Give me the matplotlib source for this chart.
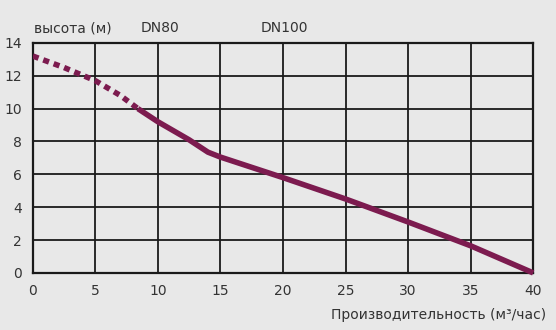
import matplotlib
matplotlib.use("Agg")
import matplotlib.pyplot as plt

# ── Data ──────────────────────────────────────────────────────────────────────

# dotted part (below the pump's working range)
dot_x = [0, 2.5, 5, 7, 8.4]
dot_y = [13.2, 12.5, 11.7, 10.8, 10.0]

# solid working curve
sol_x = [8.4, 10, 12.5, 14, 15, 20, 25, 30, 35, 40]
sol_y = [10.0, 9.2, 8.1, 7.35, 7.05, 5.8, 4.5, 3.1, 1.65, 0.0]

x_ticks = [0, 5, 10, 15, 20, 25, 30, 35, 40]
y_ticks = [0, 2, 4, 6, 8, 10, 12, 14]

BG    = "#e8e8e8"
CURVE = "#7c1b4f"
TEXT  = "#333333"

# ── Plot ──────────────────────────────────────────────────────────────────────

fig = plt.figure(figsize=(5.56, 3.30), dpi=100)
fig.patch.set_facecolor(BG)
ax = fig.add_axes([0.059, 0.173, 0.900, 0.697])
ax.set_facecolor(BG)

ax.set_xlim(0, 40)
ax.set_ylim(0, 14)
ax.set_xticks(x_ticks)
ax.set_yticks(y_ticks)
ax.grid(True, color="#1a1a1a", lw=1.3)
ax.set_axisbelow(True)
for s in ax.spines.values():
    s.set_color("#1a1a1a")
    s.set_linewidth(1.6)
ax.tick_params(length=0, labelsize=10, colors=TEXT, pad=8)

ax.plot(dot_x, dot_y, color=CURVE, lw=4, ls=(0, (1.1, 0.9)),
        solid_capstyle="butt", dash_capstyle="butt", zorder=3)
ax.plot(sol_x, sol_y, color=CURVE, lw=4, solid_capstyle="butt",
        solid_joinstyle="round", zorder=3, clip_on=False)

fig.text(0.061, 0.915, "высота (м)", fontsize=10, color=TEXT, va="center")
fig.text(0.287, 0.915, "DN80", fontsize=10, color=TEXT, va="center", ha="center")
fig.text(0.512, 0.915, "DN100", fontsize=10, color=TEXT, va="center", ha="center")
fig.text(0.982, 0.045, "Производительность (м³/час)", fontsize=10,
         color=TEXT, va="center", ha="right")

plt.savefig("out.png", dpi=100, facecolor=BG)
